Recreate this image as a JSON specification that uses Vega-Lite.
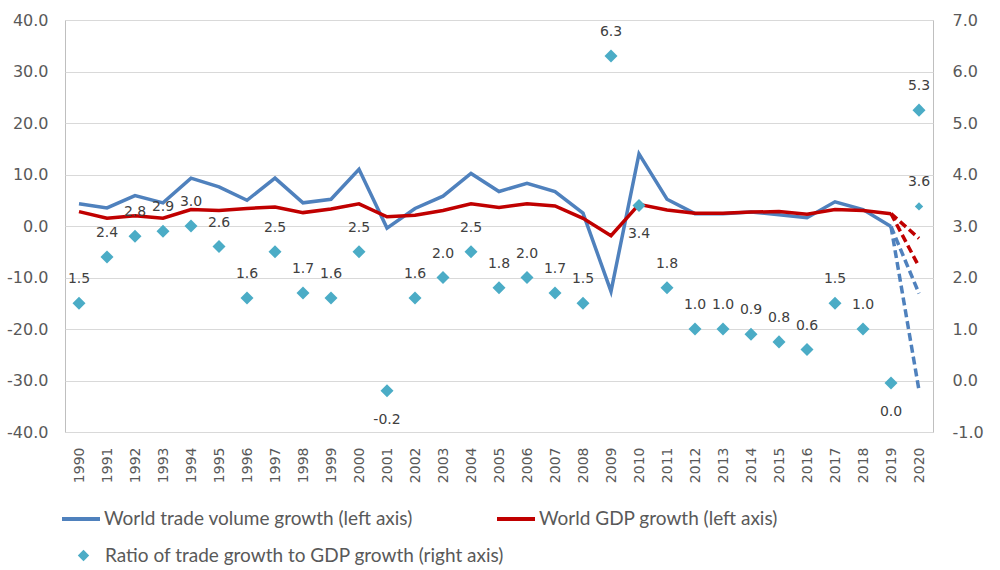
{
  "$schema": "https://vega.github.io/schema/vega-lite/v6.json",
  "width": 868,
  "height": 412,
  "autosize": {"type": "none"},
  "padding": {"left": 65, "top": 20, "right": 67, "bottom": 138},
  "background": "white",
  "config": {
    "view": {"stroke": "#bfbfbf", "strokeWidth": 1},
    "font": "DejaVu Sans",
    "axisX": {"labelAngle": -90, "labelFontSize": 14, "labelColor": "#595959", "labelPadding": 15, "ticks": false, "domain": false, "grid": false, "title": null, "labelFont": "DejaVu Sans"},
    "axisY": {"labelFontSize": 16, "labelColor": "#595959", "ticks": false, "domain": false, "title": null, "labelFont": "DejaVu Sans"}
  },
  "datasets": {
    "lines": [
      {"year": "1990", "series": "World trade volume growth (left axis)", "value": 4.3},
      {"year": "1991", "series": "World trade volume growth (left axis)", "value": 3.5},
      {"year": "1992", "series": "World trade volume growth (left axis)", "value": 5.9},
      {"year": "1993", "series": "World trade volume growth (left axis)", "value": 4.5},
      {"year": "1994", "series": "World trade volume growth (left axis)", "value": 9.3},
      {"year": "1995", "series": "World trade volume growth (left axis)", "value": 7.6},
      {"year": "1996", "series": "World trade volume growth (left axis)", "value": 5.0},
      {"year": "1997", "series": "World trade volume growth (left axis)", "value": 9.3},
      {"year": "1998", "series": "World trade volume growth (left axis)", "value": 4.5},
      {"year": "1999", "series": "World trade volume growth (left axis)", "value": 5.2},
      {"year": "2000", "series": "World trade volume growth (left axis)", "value": 11.0},
      {"year": "2001", "series": "World trade volume growth (left axis)", "value": -0.4},
      {"year": "2002", "series": "World trade volume growth (left axis)", "value": 3.4},
      {"year": "2003", "series": "World trade volume growth (left axis)", "value": 5.8},
      {"year": "2004", "series": "World trade volume growth (left axis)", "value": 10.2},
      {"year": "2005", "series": "World trade volume growth (left axis)", "value": 6.7},
      {"year": "2006", "series": "World trade volume growth (left axis)", "value": 8.3},
      {"year": "2007", "series": "World trade volume growth (left axis)", "value": 6.7},
      {"year": "2008", "series": "World trade volume growth (left axis)", "value": 2.5},
      {"year": "2009", "series": "World trade volume growth (left axis)", "value": -12.7},
      {"year": "2010", "series": "World trade volume growth (left axis)", "value": 14.0},
      {"year": "2011", "series": "World trade volume growth (left axis)", "value": 5.2},
      {"year": "2012", "series": "World trade volume growth (left axis)", "value": 2.4},
      {"year": "2013", "series": "World trade volume growth (left axis)", "value": 2.4},
      {"year": "2014", "series": "World trade volume growth (left axis)", "value": 2.7},
      {"year": "2015", "series": "World trade volume growth (left axis)", "value": 2.2},
      {"year": "2016", "series": "World trade volume growth (left axis)", "value": 1.6},
      {"year": "2017", "series": "World trade volume growth (left axis)", "value": 4.7},
      {"year": "2018", "series": "World trade volume growth (left axis)", "value": 3.2},
      {"year": "2019", "series": "World trade volume growth (left axis)", "value": -0.1},
      {"year": "1990", "series": "World GDP growth (left axis)", "value": 2.8},
      {"year": "1991", "series": "World GDP growth (left axis)", "value": 1.5},
      {"year": "1992", "series": "World GDP growth (left axis)", "value": 2.0},
      {"year": "1993", "series": "World GDP growth (left axis)", "value": 1.5},
      {"year": "1994", "series": "World GDP growth (left axis)", "value": 3.2},
      {"year": "1995", "series": "World GDP growth (left axis)", "value": 3.0},
      {"year": "1996", "series": "World GDP growth (left axis)", "value": 3.4},
      {"year": "1997", "series": "World GDP growth (left axis)", "value": 3.7},
      {"year": "1998", "series": "World GDP growth (left axis)", "value": 2.6},
      {"year": "1999", "series": "World GDP growth (left axis)", "value": 3.3},
      {"year": "2000", "series": "World GDP growth (left axis)", "value": 4.3},
      {"year": "2001", "series": "World GDP growth (left axis)", "value": 1.8},
      {"year": "2002", "series": "World GDP growth (left axis)", "value": 2.1},
      {"year": "2003", "series": "World GDP growth (left axis)", "value": 3.0},
      {"year": "2004", "series": "World GDP growth (left axis)", "value": 4.3},
      {"year": "2005", "series": "World GDP growth (left axis)", "value": 3.6},
      {"year": "2006", "series": "World GDP growth (left axis)", "value": 4.3},
      {"year": "2007", "series": "World GDP growth (left axis)", "value": 3.9},
      {"year": "2008", "series": "World GDP growth (left axis)", "value": 1.5},
      {"year": "2009", "series": "World GDP growth (left axis)", "value": -1.9},
      {"year": "2010", "series": "World GDP growth (left axis)", "value": 4.2},
      {"year": "2011", "series": "World GDP growth (left axis)", "value": 3.1},
      {"year": "2012", "series": "World GDP growth (left axis)", "value": 2.5},
      {"year": "2013", "series": "World GDP growth (left axis)", "value": 2.5},
      {"year": "2014", "series": "World GDP growth (left axis)", "value": 2.7},
      {"year": "2015", "series": "World GDP growth (left axis)", "value": 2.8},
      {"year": "2016", "series": "World GDP growth (left axis)", "value": 2.3},
      {"year": "2017", "series": "World GDP growth (left axis)", "value": 3.2},
      {"year": "2018", "series": "World GDP growth (left axis)", "value": 3.0},
      {"year": "2019", "series": "World GDP growth (left axis)", "value": 2.4}
    ],
    "projection": [
      {"year": "2019", "series": "World trade volume growth (left axis)", "scenario": "optimistic", "value": -0.1},
      {"year": "2020", "series": "World trade volume growth (left axis)", "scenario": "optimistic", "value": -13.1},
      {"year": "2019", "series": "World trade volume growth (left axis)", "scenario": "pessimistic", "value": -0.1},
      {"year": "2020", "series": "World trade volume growth (left axis)", "scenario": "pessimistic", "value": -31.9},
      {"year": "2019", "series": "World GDP growth (left axis)", "scenario": "optimistic", "value": 2.4},
      {"year": "2020", "series": "World GDP growth (left axis)", "scenario": "optimistic", "value": -2.4},
      {"year": "2019", "series": "World GDP growth (left axis)", "scenario": "pessimistic", "value": 2.4},
      {"year": "2020", "series": "World GDP growth (left axis)", "scenario": "pessimistic", "value": -7.9}
    ],
    "ratio": [
      {"year": "1990", "ratio": 1.5, "label": "1.5", "series": "Ratio of trade growth to GDP growth (right axis)", "scenario": "actual"},
      {"year": "1991", "ratio": 2.4, "label": "2.4", "series": "Ratio of trade growth to GDP growth (right axis)", "scenario": "actual"},
      {"year": "1992", "ratio": 2.8, "label": "2.8", "series": "Ratio of trade growth to GDP growth (right axis)", "scenario": "actual"},
      {"year": "1993", "ratio": 2.9, "label": "2.9", "series": "Ratio of trade growth to GDP growth (right axis)", "scenario": "actual"},
      {"year": "1994", "ratio": 3.0, "label": "3.0", "series": "Ratio of trade growth to GDP growth (right axis)", "scenario": "actual"},
      {"year": "1995", "ratio": 2.6, "label": "2.6", "series": "Ratio of trade growth to GDP growth (right axis)", "scenario": "actual"},
      {"year": "1996", "ratio": 1.6, "label": "1.6", "series": "Ratio of trade growth to GDP growth (right axis)", "scenario": "actual"},
      {"year": "1997", "ratio": 2.5, "label": "2.5", "series": "Ratio of trade growth to GDP growth (right axis)", "scenario": "actual"},
      {"year": "1998", "ratio": 1.7, "label": "1.7", "series": "Ratio of trade growth to GDP growth (right axis)", "scenario": "actual"},
      {"year": "1999", "ratio": 1.6, "label": "1.6", "series": "Ratio of trade growth to GDP growth (right axis)", "scenario": "actual"},
      {"year": "2000", "ratio": 2.5, "label": "2.5", "series": "Ratio of trade growth to GDP growth (right axis)", "scenario": "actual"},
      {"year": "2001", "ratio": -0.2, "label": "-0.2", "series": "Ratio of trade growth to GDP growth (right axis)", "scenario": "actual"},
      {"year": "2002", "ratio": 1.6, "label": "1.6", "series": "Ratio of trade growth to GDP growth (right axis)", "scenario": "actual"},
      {"year": "2003", "ratio": 2.0, "label": "2.0", "series": "Ratio of trade growth to GDP growth (right axis)", "scenario": "actual"},
      {"year": "2004", "ratio": 2.5, "label": "2.5", "series": "Ratio of trade growth to GDP growth (right axis)", "scenario": "actual"},
      {"year": "2005", "ratio": 1.8, "label": "1.8", "series": "Ratio of trade growth to GDP growth (right axis)", "scenario": "actual"},
      {"year": "2006", "ratio": 2.0, "label": "2.0", "series": "Ratio of trade growth to GDP growth (right axis)", "scenario": "actual"},
      {"year": "2007", "ratio": 1.7, "label": "1.7", "series": "Ratio of trade growth to GDP growth (right axis)", "scenario": "actual"},
      {"year": "2008", "ratio": 1.5, "label": "1.5", "series": "Ratio of trade growth to GDP growth (right axis)", "scenario": "actual"},
      {"year": "2009", "ratio": 6.3, "label": "6.3", "series": "Ratio of trade growth to GDP growth (right axis)", "scenario": "actual"},
      {"year": "2010", "ratio": 3.4, "label": "3.4", "series": "Ratio of trade growth to GDP growth (right axis)", "scenario": "actual"},
      {"year": "2011", "ratio": 1.8, "label": "1.8", "series": "Ratio of trade growth to GDP growth (right axis)", "scenario": "actual"},
      {"year": "2012", "ratio": 1.0, "label": "1.0", "series": "Ratio of trade growth to GDP growth (right axis)", "scenario": "actual"},
      {"year": "2013", "ratio": 1.0, "label": "1.0", "series": "Ratio of trade growth to GDP growth (right axis)", "scenario": "actual"},
      {"year": "2014", "ratio": 0.9, "label": "0.9", "series": "Ratio of trade growth to GDP growth (right axis)", "scenario": "actual"},
      {"year": "2015", "ratio": 0.75, "label": "0.8", "series": "Ratio of trade growth to GDP growth (right axis)", "scenario": "actual"},
      {"year": "2016", "ratio": 0.6, "label": "0.6", "series": "Ratio of trade growth to GDP growth (right axis)", "scenario": "actual"},
      {"year": "2017", "ratio": 1.5, "label": "1.5", "series": "Ratio of trade growth to GDP growth (right axis)", "scenario": "actual"},
      {"year": "2018", "ratio": 1.0, "label": "1.0", "series": "Ratio of trade growth to GDP growth (right axis)", "scenario": "actual"},
      {"year": "2019", "ratio": -0.05, "label": "0.0", "series": "Ratio of trade growth to GDP growth (right axis)", "scenario": "actual"},
      {"year": "2020", "ratio": 5.25, "label": "5.3", "series": "Ratio of trade growth to GDP growth (right axis)", "scenario": "optimistic"},
      {"year": "2020", "ratio": 3.38, "label": "3.6", "series": "Ratio of trade growth to GDP growth (right axis)", "scenario": "pessimistic"}
    ]
  },
  "layer": [
    {
      "layer": [
        {
          "data": {"name": "lines"},
          "mark": {"type": "line", "strokeWidth": 3.5},
          "encoding": {
            "x": {"field": "year", "type": "ordinal", "scale": {"type": "point", "padding": 0.5}, "axis": {"title": null, "labelFont": "DejaVu Sans", "labelFontSize": 14, "labelPadding": 15}},
            "y": {"field": "value", "type": "quantitative", "scale": {"domain": [-40, 40], "nice": false}, "axis": {"values": [-40, -30, -20, -10, 0, 10, 20, 30, 40], "format": ".1f", "labelExpr": "replace(datum.label, '\u2212', '-')", "grid": true, "gridColor": "#d9d9d9", "labelPadding": 17, "labelFont": "DejaVu Sans", "labelFontSize": 16, "orient": "left"}},
            "color": {"field": "series", "type": "nominal", "scale": {"domain": ["World trade volume growth (left axis)", "World GDP growth (left axis)"], "range": ["#4F81BD", "#C00000"]}, "legend": {"orient": "none", "legendX": -5, "legendY": 478, "direction": "horizontal", "title": null, "symbolType": "stroke", "symbolSize": 1444, "symbolStrokeWidth": 4, "labelFont": "Lato", "labelFontSize": 19, "labelColor": "#595959", "labelLimit": 0, "columnPadding": 76, "labelOffset": 2}},
            "detail": {"field": "series"}
          }
        },
        {
          "data": {"name": "projection"},
          "mark": {"type": "line", "strokeWidth": 3.5, "strokeDash": [8, 4]},
          "encoding": {
            "x": {"field": "year", "type": "ordinal", "axis": {"title": null}},
            "y": {"field": "value", "type": "quantitative"},
            "color": {"field": "series", "type": "nominal"},
            "detail": {"field": "scenario"}
          }
        }
      ]
    },
    {
      "layer": [
        {
          "data": {"name": "ratio"},
          "mark": {"type": "point", "filled": true, "color": "#4BACC6", "opacity": 1},
          "encoding": {
            "x": {"field": "year", "type": "ordinal", "axis": {"title": null}},
            "y": {"field": "ratio", "type": "quantitative", "scale": {"domain": [-1, 7], "nice": false}, "axis": {"values": [-1, 0, 1, 2, 3, 4, 5, 6, 7], "format": ".1f", "labelExpr": "replace(datum.label, '\u2212', '-')", "grid": false, "labelPadding": 19, "labelFont": "DejaVu Sans", "labelFontSize": 16, "orient": "right"}},
            "shape": {"field": "series", "type": "nominal", "scale": {"range": ["diamond"]}, "legend": {"orient": "none", "legendX": 9, "legendY": 526, "title": null, "symbolSize": 130, "symbolFillColor": "#4BACC6", "symbolStrokeWidth": 0, "labelFont": "Lato", "labelFontSize": 19, "labelColor": "#595959", "labelLimit": 0, "labelOffset": 12}},
            "size": {"condition": {"test": "datum.scenario === 'pessimistic'", "value": 70}, "value": 170}
          }
        },
        {
          "data": {"name": "ratio"},
          "transform": [{"filter": "indexof(['2001','2010','2019'], datum.year) < 0"}],
          "mark": {"type": "text", "dy": -24, "fontSize": 14, "color": "#404040", "font": "DejaVu Sans"},
          "encoding": {
            "x": {"field": "year", "type": "ordinal", "axis": {"title": null}},
            "y": {"field": "ratio", "type": "quantitative"},
            "text": {"field": "label"}
          }
        },
        {
          "data": {"name": "ratio"},
          "transform": [{"filter": "indexof(['2001','2010','2019'], datum.year) >= 0"}],
          "mark": {"type": "text", "dy": 29, "fontSize": 14, "color": "#404040", "font": "DejaVu Sans"},
          "encoding": {
            "x": {"field": "year", "type": "ordinal", "axis": {"title": null}},
            "y": {"field": "ratio", "type": "quantitative"},
            "text": {"field": "label"}
          }
        }
      ]
    }
  ],
  "resolve": {"scale": {"y": "independent"}}
}
